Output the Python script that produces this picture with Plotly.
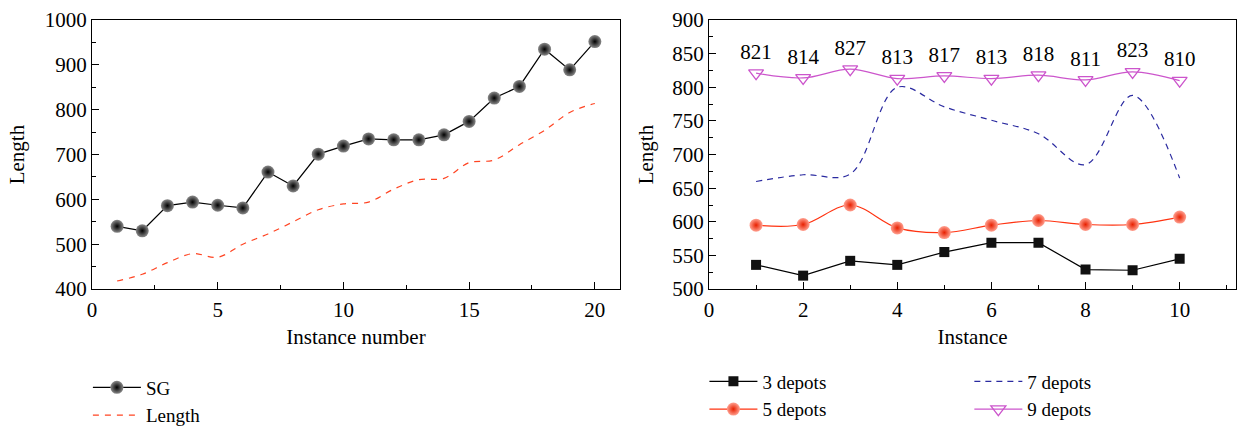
import plotly.graph_objects as go

# ---- Left chart data ----
inst_left = list(range(1, 21))
sg_vals = [540, 530, 586, 594, 587, 581, 661, 630, 701, 719,
           735, 733, 733, 744, 774, 826, 852, 935, 889, 952]
length_vals = [418, 433, 459, 479, 471, 500, 523, 550, 577, 590,
               594, 623, 644, 647, 682, 688, 722, 754, 794, 814]

# ---- Right chart data ----
inst_right = list(range(1, 11))
dep3 = [536, 520, 542, 536, 555, 569, 569, 529, 528, 545]
dep5 = [595, 596, 625, 591, 584, 595, 602, 596, 596, 607]
dep7 = [660, 670, 671, 800, 771, 751, 731, 685, 788, 665]
dep9 = [821, 814, 827, 813, 817, 813, 818, 811, 823, 810]
dep9_labels = [str(v) for v in dep9]

FONT = "Liberation Serif, 'Times New Roman', DejaVu Serif, serif"
FS = 21
LFS = 19

fig = go.Figure()

fig.add_trace(go.Scatter(
    x=inst_left, y=sg_vals, name="SG", mode="lines+markers",
    line=dict(color="black", width=1.2),
    marker=dict(symbol="circle", size=13, color="#8a8a8a",
                gradient=dict(type="radial", color="black"), line=dict(width=0)),
    xaxis="x", yaxis="y", legend="legend"))
fig.add_trace(go.Scatter(
    x=inst_left, y=length_vals, name="Length", mode="lines",
    line=dict(color="#FF4422", width=1.2, dash="6px,6px", shape="spline"),
    xaxis="x", yaxis="y", legend="legend"))

fig.add_trace(go.Scatter(
    x=inst_right, y=dep3, name="3 depots", mode="lines+markers",
    line=dict(color="black", width=1.2),
    marker=dict(symbol="square", size=10, color="#111111", line=dict(width=0)),
    xaxis="x2", yaxis="y2", legend="legend2"))
fig.add_trace(go.Scatter(
    x=inst_right, y=dep5, name="5 depots", mode="lines+markers",
    line=dict(color="#FF3311", width=1.2, shape="spline"),
    marker=dict(symbol="circle", size=13, color="#FFA090",
                gradient=dict(type="radial", color="#E82000"), line=dict(width=0)),
    xaxis="x2", yaxis="y2", legend="legend2"))
fig.add_trace(go.Scatter(
    x=inst_right, y=dep7, name="7 depots", mode="lines",
    line=dict(color="#2A2AA0", width=1.2, dash="6px,5px", shape="spline"),
    xaxis="x2", yaxis="y2", legend="legend3"))
fig.add_trace(go.Scatter(
    x=inst_right, y=dep9, name="9 depots", mode="lines+markers+text",
    text=dep9_labels, textposition="top center",
    textfont=dict(family=FONT, size=FS, color="black"),
    line=dict(color="#CC55CC", width=1.2, shape="spline"),
    marker=dict(symbol="triangle-down-open", size=13, color="#CC55CC",
                line=dict(width=1.3, color="#CC55CC")),
    xaxis="x2", yaxis="y2", legend="legend3"))

axis_common = dict(
    showline=True, linecolor="black", linewidth=1.2, mirror=True,
    ticks="inside", ticklen=7, tickwidth=1.1, tickcolor="black",
    showgrid=False, zeroline=False,
    tickfont=dict(family=FONT, size=FS, color="black"),
)

legend_common = dict(xanchor="left", yanchor="top", bgcolor="rgba(0,0,0,0)",
                     font=dict(family=FONT, size=LFS), tracegroupgap=0,
                     itemwidth=48)

fig.update_layout(
    width=1238, height=427,
    margin=dict(l=0, r=0, t=0, b=0, autoexpand=False),
    paper_bgcolor="white", plot_bgcolor="white",
    font=dict(family=FONT, size=FS, color="black"),
    xaxis=dict(domain=[0.0743, 0.5008], range=[0, 21], dtick=5, tick0=0,
               minor=dict(dtick=2.5, ticks="inside", ticklen=4, tickcolor="black"),
               ticklabelstandoff=2,
               title=dict(text="Instance number", standoff=7,
                          font=dict(family=FONT, size=FS)),
               anchor="y", automargin=False, **axis_common),
    yaxis=dict(domain=[0.323, 0.953], range=[400, 1000], dtick=100,
               minor=dict(dtick=50, ticks="inside", ticklen=4, tickcolor="black"),
               title=dict(text="Length", standoff=14,
                          font=dict(family=FONT, size=FS)),
               anchor="x", automargin=False, **axis_common),
    xaxis2=dict(domain=[0.5727, 0.9985], range=[0, 11.2], dtick=2, tick0=0,
                minor=dict(dtick=1, ticks="inside", ticklen=4, tickcolor="black"),
                ticklabelstandoff=2,
                title=dict(text="Instance", standoff=7,
                           font=dict(family=FONT, size=FS)),
                anchor="y2", automargin=False, **axis_common),
    yaxis2=dict(domain=[0.323, 0.953], range=[500, 900], dtick=50,
                minor=dict(dtick=25, ticks="inside", ticklen=4, tickcolor="black"),
                title=dict(text="Length", standoff=12,
                           font=dict(family=FONT, size=FS)),
                anchor="x2", automargin=False, **axis_common),
    legend=dict(x=0.071, y=0.137, **legend_common),
    legend2=dict(x=0.569, y=0.151, **legend_common),
    legend3=dict(x=0.783, y=0.151, **legend_common),
    showlegend=True,
)

fig.write_html("out.html")
